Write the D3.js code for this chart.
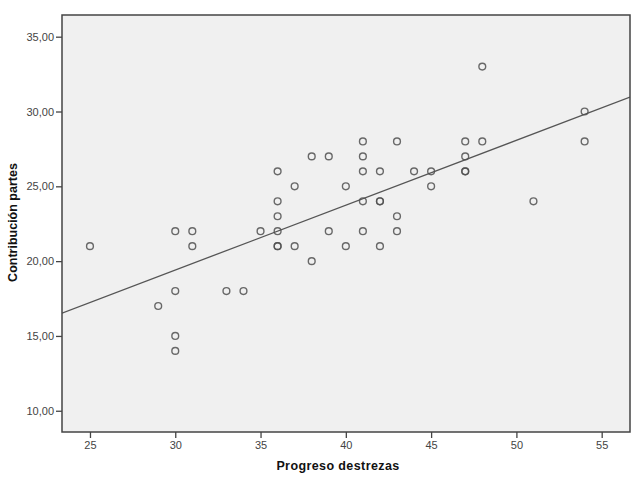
<!DOCTYPE html>
<html>
<head>
<meta charset="utf-8">
<script src="https://cdn.jsdelivr.net/npm/d3@7"></script>
<style>
  html, body { margin: 0; padding: 0; background: #ffffff; }
  svg { display: block; }
</style>
</head>
<body>
<svg id="chart" width="640" height="479"></svg>
<script>
// ---- Data ----
const progresoDestrezas = [
  25, 29, 30, 30, 30, 30, 31, 31, 33, 34, 35,
  36, 36, 36, 36, 36, 36, 37, 37, 38, 38, 39, 39, 40, 40,
  41, 41, 41, 41, 41, 42, 42, 42, 42, 43, 43, 43, 44, 45, 45,
  47, 47, 47, 47, 48, 48, 51, 54, 54
];
const contribucionPartes = [
  21, 17, 22, 18, 15, 14, 22, 21, 18, 18, 22,
  26, 24, 23, 22, 21, 21, 25, 21, 27, 20, 27, 22, 25, 21,
  28, 27, 26, 24, 22, 26, 24, 24, 21, 28, 23, 22, 26, 26, 25,
  28, 27, 26, 26, 33, 28, 24, 30, 28
];
const xTicks = [25, 30, 35, 40, 45, 50, 55];
const yTicks = [10, 15, 20, 25, 30, 35];
const xTitle = "Progreso destrezas";
const yTitle = "Contribución partes";

// ---- Layout ----
const svg = d3.select("#chart");
const pL = 62, pR = 630, pT = 15, pB = 432;

const x = d3.scaleLinear().domain([23.36, 56.66]).range([pL, pR]);
const y = d3.scaleLinear().domain([8.58, 36.45]).range([pB, pT]);

// plot background
svg.append("rect")
  .attr("x", pL).attr("y", pT)
  .attr("width", pR - pL).attr("height", pB - pT)
  .attr("fill", "#f0f0f0");

svg.append("clipPath").attr("id", "plotclip")
  .append("rect").attr("x", pL).attr("y", pT)
  .attr("width", pR - pL).attr("height", pB - pT);

// regression line (least squares from the data)
const n = progresoDestrezas.length;
const mx = d3.mean(progresoDestrezas), my = d3.mean(contribucionPartes);
let sxy = 0, sxx = 0;
for (let i = 0; i < n; i++) {
  sxy += (progresoDestrezas[i] - mx) * (contribucionPartes[i] - my);
  sxx += (progresoDestrezas[i] - mx) ** 2;
}
const slope = sxy / sxx, intercept = my - slope * mx;
const xd = x.domain();
svg.append("line")
  .attr("clip-path", "url(#plotclip)")
  .attr("x1", x(xd[0])).attr("y1", y(intercept + slope * xd[0]))
  .attr("x2", x(xd[1])).attr("y2", y(intercept + slope * xd[1]))
  .attr("stroke", "#555").attr("stroke-width", 1.3);

// points
svg.append("g").selectAll("circle")
  .data(progresoDestrezas.map((v, i) => [v, contribucionPartes[i]]))
  .join("circle")
  .attr("cx", d => x(d[0]))
  .attr("cy", d => y(d[1]))
  .attr("r", 3.4)
  .attr("fill", "none")
  .attr("stroke", "#505050")
  .attr("stroke-opacity", 0.85)
  .attr("stroke-width", 1.4);

// frame
svg.append("rect")
  .attr("x", pL).attr("y", pT)
  .attr("width", pR - pL).attr("height", pB - pT)
  .attr("fill", "none").attr("stroke", "#444").attr("stroke-width", 1.5);

// axes
const fmt = d => d3.format(".2f")(d).replace(".", ",");
const xAxis = svg.append("g")
  .attr("transform", `translate(0,${pB})`)
  .call(d3.axisBottom(x).tickValues(xTicks).tickSize(6).tickPadding(3).tickFormat(d3.format("d")));
const yAxis = svg.append("g")
  .attr("transform", `translate(${pL},0)`)
  .call(d3.axisLeft(y).tickValues(yTicks).tickSize(6).tickPadding(2).tickFormat(fmt));

[xAxis, yAxis].forEach(g => {
  g.select(".domain").remove();
  g.selectAll(".tick line").attr("stroke", "#444").attr("stroke-width", 1.3);
  g.selectAll(".tick text")
    .attr("fill", "#444")
    .attr("font-family", "Liberation Sans, Arial, sans-serif")
    .attr("font-size", "11px");
});

// titles
svg.append("text")
  .attr("x", (pL + pR) / 2 - 8).attr("y", 470)
  .attr("text-anchor", "middle")
  .attr("font-family", "Liberation Sans, Arial, sans-serif")
  .attr("font-weight", "bold").attr("font-size", "12.5px")
  .attr("letter-spacing", "0.4px")
  .attr("fill", "#111")
  .text(xTitle);

svg.append("text")
  .attr("transform", `translate(17,${(pT + pB) / 2 - 1}) rotate(-90)`)
  .attr("text-anchor", "middle")
  .attr("font-family", "Liberation Sans, Arial, sans-serif")
  .attr("font-weight", "bold").attr("font-size", "12.5px")
  .attr("fill", "#111")
  .text(yTitle);
</script>
</body>
</html>
